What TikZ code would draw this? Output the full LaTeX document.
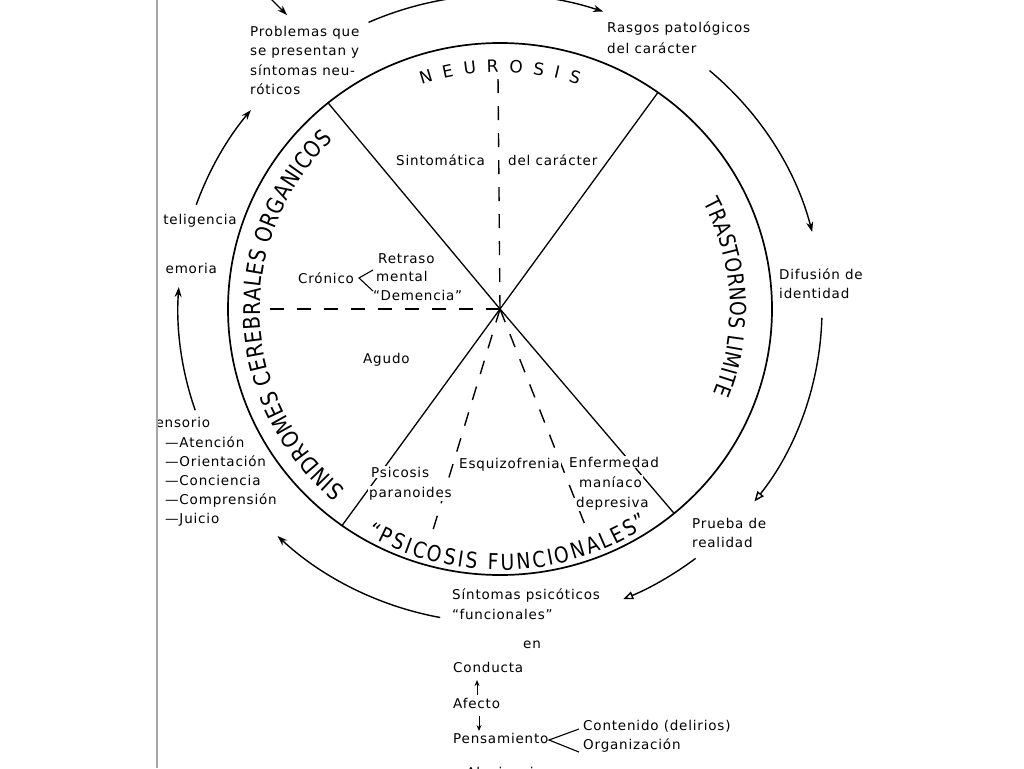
\documentclass[tikz,border=0pt]{standalone}
\usepackage{fontspec}
\setmainfont{DejaVu Sans}[LetterSpace=6]
\newfontfamily\arcfont{DejaVu Sans}[FakeStretch=0.85]
\usetikzlibrary{arrows.meta,decorations.text,calc}
\begin{document}
\begin{tikzpicture}[x=1pt,y=1pt,
  lbl/.style={anchor=base west, inner sep=0pt, font=\fontsize{13.5}{19}\selectfont},
  inlbl/.style={lbl, fill=white, inner sep=1pt},
  ring/.style={line width=1.7pt},
  spoke/.style={line width=1.3pt},
  dashline/.style={line width=1.4pt, dash pattern=on 14pt off 13pt},
  flow/.style={line width=1.4pt, -{Stealth[length=10pt,width=7pt]}},
  flowopen/.style={line width=1.4pt, -{Triangle[open,length=10pt,width=8pt]}},
  smallarr/.style={line width=1pt, -{Stealth[length=6pt,width=5pt]}},
  brace/.style={line width=1.1pt}
]
\useasboundingbox (0,0) rectangle (1024,-768);
\clip (0,0) rectangle (1024,-768);
\fill[white] (0,0) rectangle (1024,-768);

% scan edge
\draw[gray!70, line width=1.2pt] (157,0) -- (157,-768);

\coordinate (C) at (500,-309);

% main circle
\draw[ring] (C) ellipse[x radius=272, y radius=266];

% spokes
\coordinate (sUL) at ($(C)+(129.2:272 and 266)$);
\coordinate (sUR) at ($(C)+(54.5:272 and 266)$);
\coordinate (sLL) at ($(C)+(234.5:272 and 266)$);
\coordinate (sLR) at ($(C)+(-50.2:272 and 266)$);
\draw[spoke] (C) -- (sUL);
\draw[spoke] (C) -- (sUR);
\draw[spoke] (C) -- (sLL);
\draw[spoke] (C) -- (sLR);

% dashed dividers
\coordinate (dTop) at (498,-76);
\coordinate (dLeft) at (262,-309);
\coordinate (dLL) at (433,-530);
\coordinate (dLR) at (587,-530);
\draw[dashline] (C) -- (dTop);
\draw[dashline] (C) -- (dLeft);
\draw[dashline] (C) -- (dLL);
\draw[dashline] (C) -- (dLR);

% texts along the circle
\path[decorate, decoration={text along path, text align={fit to path},
  text={|\fontsize{17}{17}\selectfont|NEUROSIS}}]
  (C) ++(109:241 and 237) arc[start angle=109, end angle=71, x radius=241, y radius=237];
\path[decorate, decoration={text along path, text align={fit to path},
  text={|\arcfont\fontsize{23}{23}\selectfont|SINDROMES CEREBRALES ORGANICOS}}]
  (C) ++(230:240 and 235) arc[start angle=230, end angle=134, x radius=240, y radius=235];
\path[decorate, decoration={text along path, text align={fit to path},
  text={|\arcfont\fontsize{22}{22}\selectfont|TRASTORNOS LIMITE}}]
  (C) ++(28:230 and 226) arc[start angle=28, end angle=-22, x radius=230, y radius=226];
\path[decorate, decoration={text along path, text align={fit to path},
  text={|\arcfont\fontsize{22}{22}\selectfont|“PSICOSIS FUNCIONALES”}}]
  (C) ++(240:266 and 261) arc[start angle=240, end angle=304, x radius=266, y radius=261];

% inner labels
\node[inlbl] (sinto) at (395,-165) {Sintomática};
\node[inlbl] (delc) at (507,-165) {del carácter};
\node[inlbl] (cron) at (297,-283) {Crónico};
\node[inlbl] (retr) at (377,-263) {Retraso};
\node[inlbl] (ment) at (375,-281) {mental};
\node[inlbl] (deme) at (372,-300) {“Demencia”};
\node[inlbl] (agud) at (362,-363) {Agudo};
\node[inlbl] (psic) at (370,-477) {Psicosis};
\node[inlbl] (para) at (368,-497) {paranoides};
\node[inlbl] (esq) at (458,-468) {Esquizofrenia};
\node[inlbl] (enf) at (568,-467) {Enfermedad};
\node[inlbl] (mani) at (578,-487) {maníaco};
\node[inlbl] (depr) at (575,-507) {depresiva};

\coordinate (b1v) at (359,-278);
\coordinate (b1u) at (373,-270);
\coordinate (b1l) at (373,-291);
\draw[brace] (b1u) -- (b1v) -- (b1l);

% outer labels
\node[lbl] (prob1) at (250,-37) {Problemas que};
\node[lbl] (prob2) at (250,-56) {se presentan y};
\node[lbl] (prob3) at (250,-75) {síntomas neu-};
\node[lbl] (prob4) at (250,-94) {róticos};
\node[lbl] (rasg1) at (607,-33) {Rasgos patológicos};
\node[lbl] (rasg2) at (607,-53) {del carácter};
\node[lbl] (dif1) at (779,-279) {Difusión de};
\node[lbl] (dif2) at (779,-298) {identidad};
\node[lbl] (prue1) at (692,-528) {Prueba de};
\node[lbl] (prue2) at (692,-547) {realidad};
\node[lbl] (sint1) at (452,-599) {Síntomas psicóticos};
\node[lbl] (sint2) at (452,-619) {“funcionales”};
\node[lbl] (en) at (523,-648) {en};
\node[lbl] (cond) at (453,-672) {Conducta};
\node[lbl] (afec) at (453,-708) {Afecto};
\node[lbl] (pens) at (453,-743) {Pensamiento};
\node[lbl] (cont) at (583,-730) {Contenido (delirios)};
\node[lbl] (orga) at (583,-749) {Organización};
\node[lbl] (aluc) at (453,-777) {y Alucinaciones};

\coordinate (a1s) at (477,-695);
\coordinate (a1e) at (477,-680);
\coordinate (a2s) at (479,-716);
\coordinate (a2e) at (479,-731);
\draw[smallarr] (a1s) -- (a1e);
\draw[smallarr] (a2s) -- (a2e);

\coordinate (b2v) at (549,-740);
\coordinate (b2u) at (579,-729);
\coordinate (b2l) at (579,-752);
\draw[brace] (b2u) -- (b2v) -- (b2l);

% labels cut by the page edge
\begin{scope}
\clip (162,0) rectangle (1024,-768);
\node[lbl] (intel) at (149,-224) {Inteligencia};
\end{scope}
\begin{scope}
\clip (164,0) rectangle (1024,-768);
\node[lbl] (memo) at (153,-273) {Memoria};
\end{scope}
\begin{scope}
\clip (158,0) rectangle (1024,-768);
\node[lbl] (sens) at (146,-427) {Sensorio};
\end{scope}
\node[lbl] (aten) at (165,-447) {—Atención};
\node[lbl] (orie) at (165,-466) {—Orientación};
\node[lbl] (conc) at (165,-485) {—Conciencia};
\node[lbl] (comp) at (165,-504) {—Comprensión};
\node[lbl] (juic) at (165,-523) {—Juicio};

% outer flow arcs
\coordinate (o1s) at ($(C)+(114.1:322 and 314)$);
\coordinate (o2s) at ($(C)+(49.4:322 and 314)$);
\coordinate (o3s) at ($(C)+(-1.6:322 and 314)$);
\coordinate (o4s) at ($(C)+(-52.6:322 and 314)$);
\coordinate (o5s) at ($(C)+(-100.7:322 and 314)$);
\coordinate (o6s) at ($(C)+(198.8:322 and 314)$);
\coordinate (o7s) at ($(C)+(160.6:322 and 314)$);
\draw[flow] (o1s) arc[start angle=114.1, end angle=71.3, x radius=322, y radius=314];
\draw[flow] (o2s) arc[start angle=49.4, end angle=14.2, x radius=322, y radius=314];
\draw[flowopen] (o3s) arc[start angle=-1.6, end angle=-37.8, x radius=322, y radius=314];
\draw[flowopen] (o4s) arc[start angle=-52.6, end angle=-67.5, x radius=322, y radius=314];
\draw[flow] (o5s) arc[start angle=-100.7, end angle=-133.7, x radius=322, y radius=314];
\draw[flow] (o6s) arc[start angle=198.8, end angle=176, x radius=322, y radius=314];
\draw[flow] (o7s) arc[start angle=160.6, end angle=140.7, x radius=322, y radius=314];

\coordinate (fr0) at (268,4);
\coordinate (fr1) at (287,-15);
\draw[flow] (fr0) -- (fr1);
\end{tikzpicture}
\end{document}
